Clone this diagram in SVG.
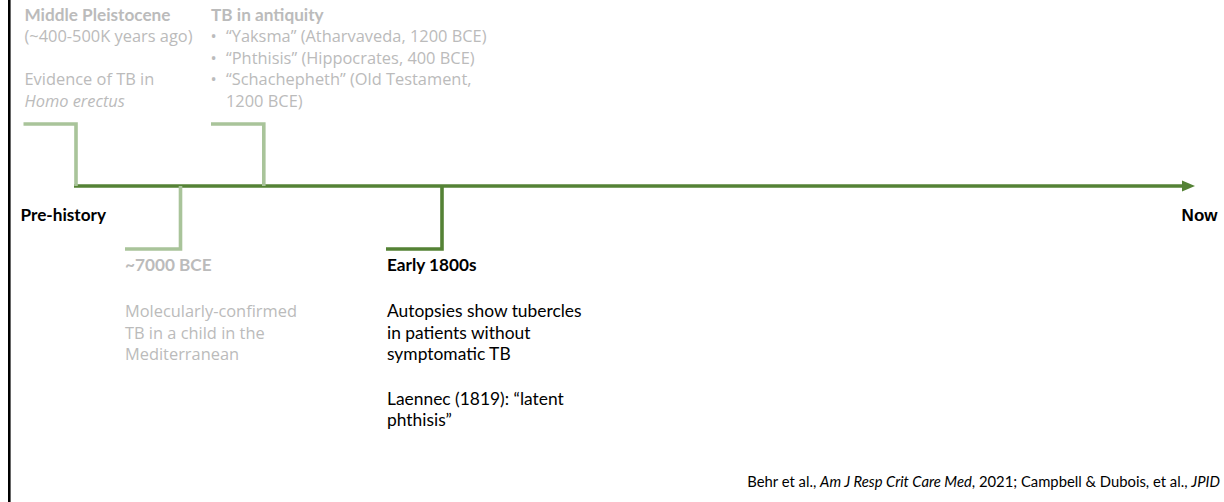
<svg xmlns="http://www.w3.org/2000/svg" width="1224" height="502" viewBox="0 0 1224 502">
  <style>
    .head-grey { font-family: Lato, "Liberation Sans", sans-serif; font-weight: 700; font-size: 17.2px; fill: #BBBBBB; }
    .body-grey { font-family: "Open Sans", "Noto Sans", sans-serif; font-size: 16.4px; fill: #BBBBBB; }
    .head-dark { font-family: Lato, "Liberation Sans", sans-serif; font-weight: 700; font-size: 17.2px; fill: #000000; }
    .body-dark { font-family: Lato, "Liberation Sans", sans-serif; font-size: 17.4px; fill: #000000; }
    .end-label { font-family: "Liberation Sans", Arial, sans-serif; font-weight: 700; font-size: 17px; fill: #000000; }
    .cite { font-family: Lato, "Liberation Sans", sans-serif; font-size: 14.8px; fill: #000000; }
    .it { font-style: italic; }
    .link-light { fill: none; stroke: #A9C49A; stroke-width: 3.6; stroke-linejoin: miter; }
    .link-dark { fill: none; stroke: #548235; stroke-width: 3.6; stroke-linejoin: miter; }
  </style>
  <defs>
    <marker id="arrow" markerUnits="userSpaceOnUse" markerWidth="14" markerHeight="12" refX="1" refY="6" orient="auto">
      <path d="M0,0.5 L13,6 L0,11.5 Z" fill="#548235"/>
    </marker>
  </defs>

  <rect width="1224" height="502" fill="#FFFFFF"/>

  <!-- left frame edge -->
  <line x1="9.3" y1="0" x2="9.3" y2="502" stroke="#000000" stroke-width="2.6"/>

  <!-- timeline axis and event leaders -->
  <g id="connectors">
    <line id="axis" x1="74" y1="186" x2="1183" y2="186" stroke="#548235" stroke-width="3.6" marker-end="url(#arrow)"/>
    <polyline class="link-light" points="23.5,124 76,124 76,186"/>
    <polyline class="link-light" points="211,124 263.8,124 263.8,186"/>
    <polyline class="link-light" points="180.5,186 180.5,249 125,249"/>
    <polyline class="link-dark" points="442,186 442,249 386,249"/>
  </g>

  <g id="pre-history">
    <text class="head-dark" x="20.5" y="221">Pre-history</text>
  </g>

  <g id="now">
    <text class="end-label" x="1217.5" y="221" text-anchor="end">Now</text>
  </g>

  <g id="middle-pleistocene">
    <text class="head-grey" x="24.5" y="20.7">Middle Pleistocene</text>
    <text class="body-grey" x="24.5" y="42.3">(~400-500K years ago)</text>
    <text class="body-grey" x="24.5" y="85.3">Evidence of TB in</text>
    <text class="body-grey it" x="24.5" y="106.8">Homo erectus</text>
  </g>

  <g id="tb-in-antiquity">
    <text class="head-grey" x="211" y="20.7">TB in antiquity</text>
    <text class="body-grey" x="210.5" y="42.3">•</text>
    <text class="body-grey" x="226" y="42.3">“Yaksma” (Atharvaveda, 1200 BCE)</text>
    <text class="body-grey" x="210.5" y="63.8">•</text>
    <text class="body-grey" x="226" y="63.8">“Phthisis” (Hippocrates, 400 BCE)</text>
    <text class="body-grey" x="210.5" y="85.3">•</text>
    <text class="body-grey" x="226" y="85.3">“Schachepheth” (Old Testament,</text>
    <text class="body-grey" x="226" y="106.8">1200 BCE)</text>
  </g>

  <g id="bce-7000">
    <text class="head-grey" x="125" y="270.7">~7000 BCE</text>
    <text class="body-grey" x="125" y="317.3">Molecularly-confirmed</text>
    <text class="body-grey" x="125" y="338.8">TB in a child in the</text>
    <text class="body-grey" x="125" y="360.3">Mediterranean</text>
  </g>

  <g id="early-1800s">
    <text class="head-dark" x="387" y="270.7">Early 1800s</text>
    <text class="body-dark" x="387" y="317.3">Autopsies show tubercles</text>
    <text class="body-dark" x="387" y="338.8">in patients without</text>
    <text class="body-dark" x="387" y="360.3">symptomatic TB</text>
    <text class="body-dark" x="387" y="404.8">Laennec (1819): “latent</text>
    <text class="body-dark" x="387" y="426.3">phthisis”</text>
  </g>

  <g id="citation">
    <text class="cite" x="1220" y="486.7" text-anchor="end">Behr et al., <tspan class="it">Am J Resp Crit Care Med</tspan>, 2021; Campbell &amp; Dubois, et al., <tspan class="it">JPID</tspan></text>
  </g>
</svg>
